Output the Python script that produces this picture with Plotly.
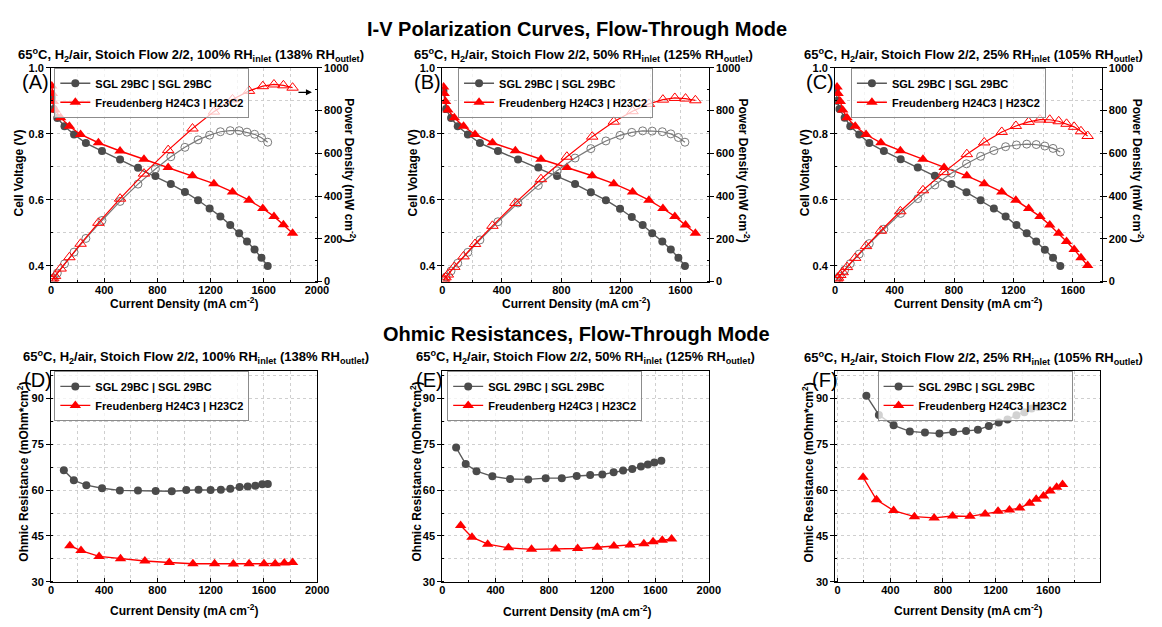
import plotly.graph_objects as go

W, H = 1162, 627

# ---------------- data ----------------
# Panel A : 100% RH inlet
a_sgl_i = [8, 20, 47, 101, 173, 262, 383, 519, 654, 785, 901, 1007, 1106, 1193, 1274, 1348, 1415, 1474, 1531, 1583, 1630]
a_sgl_v = [0.910, 0.875, 0.848, 0.823, 0.798, 0.772, 0.748, 0.722, 0.697, 0.672, 0.648, 0.624, 0.599, 0.574, 0.550, 0.524, 0.499, 0.474, 0.450, 0.425, 0.400]
a_sgl_p = [7, 18, 40, 83, 138, 202, 286, 375, 456, 527, 584, 628, 663, 685, 701, 706, 706, 699, 689, 673, 652]
a_fr_i = [5, 10, 17, 30, 72, 138, 222, 356, 519, 699, 881, 1064, 1225, 1365, 1489, 1593, 1677, 1748, 1817]
a_fr_v = [0.945, 0.922, 0.898, 0.872, 0.849, 0.823, 0.798, 0.773, 0.748, 0.723, 0.698, 0.673, 0.649, 0.624, 0.599, 0.574, 0.550, 0.525, 0.499]
a_fr_p = [5, 9, 15, 26, 61, 114, 177, 275, 388, 505, 615, 716, 795, 852, 892, 914, 922, 918, 907]

# Panel B : 50% RH inlet
b_sgl_i = [8, 25, 59, 104, 172, 253, 374, 509, 645, 771, 892, 998, 1099, 1194, 1273, 1346, 1410, 1478, 1535, 1586, 1630]
b_sgl_v = [0.930, 0.875, 0.848, 0.823, 0.798, 0.772, 0.748, 0.722, 0.698, 0.672, 0.648, 0.623, 0.599, 0.573, 0.548, 0.524, 0.499, 0.474, 0.450, 0.425, 0.400]
b_sgl_p = [7, 22, 50, 86, 137, 195, 280, 368, 450, 518, 578, 622, 658, 684, 698, 705, 704, 701, 691, 674, 652]
b_fr_i = [9, 13, 22, 38, 81, 143, 220, 337, 491, 663, 837, 1007, 1152, 1278, 1388, 1482, 1562, 1634, 1700]
b_fr_v = [0.942, 0.922, 0.898, 0.872, 0.849, 0.823, 0.798, 0.773, 0.749, 0.723, 0.698, 0.673, 0.649, 0.624, 0.599, 0.574, 0.550, 0.524, 0.499]
b_fr_p = [8, 12, 20, 33, 69, 118, 176, 261, 368, 479, 584, 678, 748, 797, 831, 851, 859, 856, 848]

# Panel C : 25% RH inlet
c_sgl_i = [5, 15, 29, 64, 102, 162, 230, 328, 441, 556, 671, 782, 884, 979, 1068, 1147, 1220, 1289, 1353, 1411, 1466, 1515]
c_sgl_v = [0.935, 0.900, 0.875, 0.849, 0.823, 0.798, 0.772, 0.748, 0.723, 0.698, 0.673, 0.648, 0.623, 0.599, 0.574, 0.550, 0.524, 0.499, 0.474, 0.449, 0.425, 0.400]
c_sgl_p = [5, 14, 25, 54, 84, 129, 178, 245, 319, 388, 452, 507, 551, 586, 613, 631, 639, 643, 641, 634, 623, 606]
c_fr_i = [13, 20, 35, 51, 80, 135, 208, 308, 439, 591, 733, 886, 1003, 1121, 1216, 1302, 1378, 1444, 1504, 1557, 1608, 1654, 1699]
c_fr_v = [0.942, 0.922, 0.898, 0.872, 0.849, 0.823, 0.798, 0.773, 0.749, 0.723, 0.698, 0.673, 0.649, 0.624, 0.599, 0.574, 0.550, 0.524, 0.499, 0.474, 0.450, 0.425, 0.401]
c_fr_p = [12, 18, 31, 44, 68, 111, 166, 238, 329, 427, 512, 596, 651, 700, 728, 747, 758, 757, 750, 738, 724, 703, 681]

# Panel D : ohmic resistance, 100% RH inlet
d_sgl_i = [96, 171, 265, 383, 517, 653, 786, 907, 1016, 1108, 1199, 1276, 1347, 1417, 1478, 1535, 1587, 1629]
d_sgl_r = [66.5, 63.2, 61.6, 60.6, 59.9, 59.9, 59.7, 59.6, 60.0, 60.1, 60.0, 60.1, 60.4, 61.0, 61.2, 61.4, 61.9, 62.0]
d_fr_i = [141, 225, 361, 522, 705, 888, 1066, 1229, 1370, 1488, 1600, 1684, 1753, 1815]
d_fr_r = [41.8, 40.2, 38.3, 37.5, 36.8, 36.3, 35.9, 35.9, 35.8, 35.9, 35.9, 35.9, 36.1, 36.3]

# Panel E : ohmic resistance, 50% RH inlet
e_sgl_i = [104, 176, 257, 376, 509, 645, 776, 897, 1009, 1110, 1201, 1286, 1357, 1426, 1491, 1543, 1592, 1644]
e_sgl_r = [73.9, 68.5, 66.2, 64.5, 63.6, 63.5, 63.9, 63.9, 64.6, 64.9, 65.1, 65.8, 66.4, 66.9, 67.7, 68.4, 69.0, 69.6]
e_fr_i = [138, 223, 341, 497, 670, 850, 1016, 1164, 1288, 1409, 1513, 1582, 1651, 1721]
e_fr_r = [48.4, 44.6, 42.3, 41.1, 40.6, 40.7, 40.9, 41.3, 41.7, 42.0, 42.4, 43.1, 43.6, 44.0]

# Panel F : ohmic resistance, 25% RH inlet
f_sgl_i = [218, 313, 425, 548, 663, 773, 878, 975, 1065, 1148, 1223, 1290, 1358, 1418, 1473, 1525]
f_sgl_r = [90.9, 84.6, 81.2, 79.2, 78.8, 78.5, 79.0, 79.3, 79.7, 81.0, 82.1, 83.1, 84.5, 85.5, 86.7, 87.2]
f_fr_i = [193, 295, 425, 583, 733, 873, 1005, 1120, 1218, 1305, 1383, 1458, 1508, 1563, 1613, 1663, 1708]
f_fr_r = [64.2, 56.8, 53.3, 51.3, 50.9, 51.5, 51.4, 52.2, 53.1, 53.5, 54.1, 55.7, 57.0, 58.1, 59.7, 60.9, 61.8]

sgl_name = "SGL 29BC | SGL 29BC"
fr_name = "Freudenberg H24C3 | H23C2"
main_titles = ["I-V Polarization Curves, Flow-Through Mode", "Ohmic Resistances, Flow-Through Mode"]
rh_in = ["100%", "50%", "25%"]
rh_out = ["138%", "125%", "105%"]
panel_labels = ["(A)", "(B)", "(C)", "(D)", "(E)", "(F)"]

# ---------------- styles ----------------
FONT = "Liberation Sans, Arial, sans-serif"
GREY_M = "#4b4b4b"
GREY_L = "#5a5a5a"
GREY_O = "#7a7a7a"
RED = "#ff0000"
GRID = "#cfcfcf"


def px(x):
    return x / W


def py(y):
    return 1 - y / H


# plot-area boxes in screen pixels: (left, right, top, bottom)
boxes = [
    (48.7, 318.0, 63, 281),
    (445.0, 715.0, 63, 281),
    (843.0, 1113.0, 63, 281),
    (48.7, 318.3, 372, 587),
    (445.0, 715.0, 372, 587),
    (843.3, 1111.7, 372, 587),
]
xranges = [[0, 2000], [0, 1790], [0, 1793], [0, 2000], [0, 2000], [-17, 1995]]
x_anchor_y = ["y", "y3", "y5", "y7", "y8", "y9"]

fig = go.Figure()


def base_axis():
    return dict(
        showline=True, linecolor="black", linewidth=1, mirror=True,
        ticks="outside", ticklen=4, tickcolor="black", tickwidth=1,
        tickfont=dict(family=FONT, size=11, color="black", weight="bold"),
        showgrid=True, gridcolor=GRID, griddash="dot", gridwidth=1,
        zeroline=False,
    )


layout = {}
for k in range(6):
    l, r, t, b = boxes[k]
    xa = base_axis()
    xa.update(domain=[px(l), px(r)], range=xranges[k], tick0=0, dtick=400,
              anchor=x_anchor_y[k], ticks="inside", ticklen=4, ticklabelstandoff=-2,
              minor=dict(dtick=200, tick0=0, showgrid=True, gridcolor=GRID, griddash="dot",
                         ticks="inside", ticklen=2, tickcolor="black"))
    layout["xaxis" if k == 0 else f"xaxis{k+1}"] = xa

for k in range(3):
    l, r, t, b = boxes[k]
    yv = base_axis()
    yv.update(domain=[py(b), py(t)], range=[0.3525, 1.0], tick0=0.4, dtick=0.2,
              anchor="x" if k == 0 else f"x{k+1}",
              tickformat=".1f",
              minor=dict(dtick=0.1, tick0=0.4, showgrid=True, gridcolor=GRID, griddash="dot",
                         ticks="inside", ticklen=2, tickcolor="black"))
    yp = base_axis()
    yp.update(domain=[py(b), py(t)], range=[0, 1000], tick0=0, dtick=200,
              anchor="x" if k == 0 else f"x{k+1}", side="right",
              overlaying="y" if k == 0 else f"y{2*k+1}", showgrid=False, mirror=False,
              minor=dict(dtick=100, ticks="inside", ticklen=2, tickcolor="black"))
    layout["yaxis" if k == 0 else f"yaxis{2*k+1}"] = yv
    layout[f"yaxis{2*k+2}"] = yp

for k in range(3, 6):
    l, r, t, b = boxes[k]
    yr = base_axis()
    yr.update(domain=[py(b), py(t)], range=[30, 99], tick0=30, dtick=15,
              anchor=f"x{k+1}",
              minor=dict(dtick=7.5, tick0=30, showgrid=True, gridcolor=GRID, griddash="dot",
                         ticks="inside", ticklen=2, tickcolor="black"))
    layout[f"yaxis{k+4}"] = yr

# ---------------- traces ----------------
iv_sets = [
    (a_sgl_i, a_sgl_v, a_sgl_p, a_fr_i, a_fr_v, a_fr_p),
    (b_sgl_i, b_sgl_v, b_sgl_p, b_fr_i, b_fr_v, b_fr_p),
    (c_sgl_i, c_sgl_v, c_sgl_p, c_fr_i, c_fr_v, c_fr_p),
]
for k, (si, sv, sp, fi, fv, fp) in enumerate(iv_sets):
    xa = "x" if k == 0 else f"x{k+1}"
    yv = "y" if k == 0 else f"y{2*k+1}"
    yp = f"y{2*k+2}"
    leg = "legend" if k == 0 else f"legend{k+1}"
    fig.add_trace(go.Scatter(x=si, y=sp, xaxis=xa, yaxis=yp, mode="lines+markers", showlegend=False,
                             line=dict(color=GREY_O, width=1.2),
                             marker=dict(symbol="circle-open", size=8, color=GREY_O, line=dict(width=1))))
    fig.add_trace(go.Scatter(x=fi, y=fp, xaxis=xa, yaxis=yp, mode="lines+markers", showlegend=False,
                             line=dict(color=RED, width=1.2),
                             marker=dict(symbol="triangle-up-open", size=10, color=RED, line=dict(width=1))))
    fig.add_trace(go.Scatter(x=si, y=sv, xaxis=xa, yaxis=yv, mode="lines+markers", name=sgl_name, legend=leg,
                             line=dict(color=GREY_L, width=1.4),
                             marker=dict(symbol="circle", size=8, color=GREY_M)))
    fig.add_trace(go.Scatter(x=fi, y=fv, xaxis=xa, yaxis=yv, mode="lines+markers", name=fr_name, legend=leg,
                             line=dict(color=RED, width=1.4),
                             marker=dict(symbol="triangle-up", size=10, color=RED)))

r_sets = [
    (d_sgl_i, d_sgl_r, d_fr_i, d_fr_r),
    (e_sgl_i, e_sgl_r, e_fr_i, e_fr_r),
    (f_sgl_i, f_sgl_r, f_fr_i, f_fr_r),
]
for j, (si, sr, fi, fr) in enumerate(r_sets):
    k = j + 3
    xa = f"x{k+1}"
    ya = f"y{k+4}"
    leg = f"legend{k+1}"
    fig.add_trace(go.Scatter(x=si, y=sr, xaxis=xa, yaxis=ya, mode="lines+markers", name=sgl_name, legend=leg,
                             line=dict(color=GREY_L, width=1.4),
                             marker=dict(symbol="circle", size=8, color=GREY_M)))
    fig.add_trace(go.Scatter(x=fi, y=fr, xaxis=xa, yaxis=ya, mode="lines+markers", name=fr_name, legend=leg,
                             line=dict(color=RED, width=1.4),
                             marker=dict(symbol="triangle-up", size=10, color=RED)))

# ---------------- legends ----------------
legend_pos = [(52, 63), (461, 63), (859, 63), (52, 372), (450, 372), (886, 372)]
for k, (lx, ly) in enumerate(legend_pos):
    layout["legend" if k == 0 else f"legend{k+1}"] = dict(
        x=px(lx), y=py(ly), xanchor="left", yanchor="top",
        bgcolor="rgba(255,255,255,0.75)", bordercolor="#8c8c8c", borderwidth=1,
        font=dict(family=FONT, size=11, color="black", weight="bold"),
        tracegroupgap=0, itemwidth=30, itemsizing="trace",
    )

# ---------------- annotations ----------------
ann = []


def text(x, y, s, size, bold=True, angle=0, xanchor="center", yanchor="middle"):
    ann.append(dict(x=px(x), y=py(y), xref="paper", yref="paper", text=s, showarrow=False,
                    textangle=angle, xanchor=xanchor, yanchor=yanchor,
                    font=dict(family=FONT, size=size, color="black", weight="bold" if bold else "normal")))


text(581, 23, main_titles[0], 20)
text(581, 334, main_titles[1], 20)

sub_centers = [(190, 50), (588, 50), (983, 50), (196, 358), (590, 358), (983, 359)]
for k, (cx, cy) in enumerate(sub_centers):
    s = (f"65<sup>o</sup>C, H<sub>2</sub>/air, Stoich Flow 2/2, {rh_in[k % 3]} RH<sub>inlet</sub> "
         f"({rh_out[k % 3]} RH<sub>outlet</sub>)")
    text(cx, cy, s, 13)

label_pos = [(33, 77), (430, 77), (828, 77), (35, 381), (432, 381), (833, 381)]
for k, (lx, ly) in enumerate(label_pos):
    text(lx, ly, panel_labels[k], 20, bold=False)

xt = "Current Density (mA cm<sup>-2</sup>)"
for (cx, cy) in [(183, 303), (580, 303), (978, 303), (183, 616), (581, 617), (978, 616)]:
    text(cx, cy, xt, 12)

for cx in [16, 415, 812]:
    text(cx, 170, "Cell Voltage (V)", 12, angle=-90)
for cx in [352, 751, 1150]:
    text(cx, 168, "Power Density (mW cm<sup>-2</sup>)", 12, angle=90)
for cx in [20, 418, 815]:
    text(cx, 475, "Ohmic Resistance (mOhm*cm<sup>2</sup>)", 12, angle=-90)

# arrow pointing to the power axis in panel A
ann.append(dict(x=px(313), y=py(88), xref="paper", yref="paper", ax=-15, ay=0,
                axref="pixel", ayref="pixel", text="", showarrow=True,
                arrowhead=2, arrowsize=1, arrowwidth=1.2, arrowcolor="black"))

layout["annotations"] = ann
layout.update(
    width=W, height=H, margin=dict(l=0, r=0, t=0, b=0),
    paper_bgcolor="white", plot_bgcolor="white",
    font=dict(family=FONT, color="black"),
)

fig.update_layout(**layout)
fig.write_html("out.html", config={"displayModeBar": False},
               post_script="document.body.style.margin='0';document.body.style.overflow='hidden';")
